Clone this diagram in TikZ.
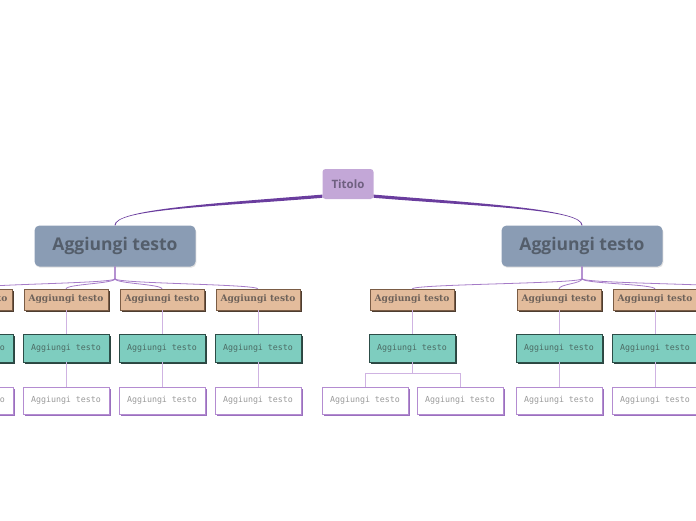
\documentclass[tikz,border=0pt]{standalone}
\usepackage{fontspec}
\usepackage{xcolor}
\newfontfamily\roundfont{Open Sans}
\newfontfamily\slabfont{DejaVu Serif}
\newfontfamily\pixfont{DejaVu Sans Mono}
\usetikzlibrary{positioning, shadows}

\definecolor{titlefill}{HTML}{C3A7D7}
\definecolor{titletext}{HTML}{6F6080}
\definecolor{mainfill}{HTML}{8A9CB4}
\definecolor{maintext}{HTML}{545E6B}
\definecolor{tanfill}{HTML}{E3BC9C}
\definecolor{tanline}{HTML}{7A5C45}
\definecolor{tanshade}{HTML}{4E3D30}
\definecolor{tantext}{HTML}{6E625A}
\definecolor{tealfill}{HTML}{7ECDBF}
\definecolor{tealline}{HTML}{2C4D47}
\definecolor{tealshade}{HTML}{2C4540}
\definecolor{tealtext}{HTML}{4C6B64}
\definecolor{leafline}{HTML}{B48CD1}
\definecolor{leafshade}{HTML}{9A70BE}
\definecolor{leaftext}{HTML}{9A9A9A}
\definecolor{trunkcol}{HTML}{6A3D9E}
\definecolor{branchcol}{HTML}{A57BC7}
\definecolor{stemcol}{HTML}{CFB3E2}

\tikzset{
  titlebox/.style={fill=titlefill, rounded corners=3pt, inner sep=0pt,
    minimum width=51pt, minimum height=30pt, text=titletext,
    font=\roundfont\bfseries\fontsize{11.5}{13}\selectfont},
  mainbox/.style={fill=mainfill, rounded corners=5pt, inner sep=0pt,
    minimum width=161pt, minimum height=41pt, text=maintext,
    general shadow={fill=black!12, shadow xshift=0.8pt, shadow yshift=-1.2pt},
    font=\roundfont\bfseries\fontsize{17.5}{20}\selectfont},
  tanbox/.style={draw=tanline, fill=tanfill, inner sep=0pt,
    minimum width=84pt, minimum height=21pt, text=tantext,
    general shadow={fill=tanshade, shadow xshift=2pt, shadow yshift=-2pt},
    font=\slabfont\bfseries\fontsize{9.1}{10}\selectfont},
  tealbox/.style={draw=tealline, fill=tealfill, inner sep=0pt,
    minimum width=86pt, minimum height=28pt, text=tealtext,
    general shadow={fill=tealshade, shadow xshift=2pt, shadow yshift=-2pt},
    font=\pixfont\fontsize{8.3}{10}\selectfont},
  leafbox/.style={draw=leafline, fill=white, inner sep=0pt,
    minimum width=86pt, minimum height=27pt, text=leaftext,
    general shadow={fill=leafshade, shadow xshift=1.5pt, shadow yshift=-1.5pt},
    font=\pixfont\fontsize{8.3}{10}\selectfont},
  trunk/.style={fill=trunkcol},
  branch/.style={draw=branchcol, line width=0.8pt},
  stem/.style={draw=stemcol, line width=0.8pt}
}

\begin{document}
\begin{tikzpicture}[x=1pt, y=-1pt]
\useasboundingbox (0,0) rectangle (696,520);
\clip (0,0) rectangle (696,520);
% Root and main topics
\node[titlebox] (titolo) at (348,184) {Titolo};
\node[mainbox] (mainL) at (115,246) {Aggiungi testo};
\node[mainbox] (mainR) at (582,246) {Aggiungi testo};
% tapered links from the root
\fill[trunk] ([yshift=4.6pt]titolo.south west) .. controls +(-110,9) and +(0,-16) .. ([xshift=-0.5pt]mainL.north)
  -- ([xshift=0.5pt]mainL.north) .. controls +(0,-16) and +(-110,9) .. ([yshift=1.4pt]titolo.south west) -- cycle;
\fill[trunk] ([yshift=4.6pt]titolo.south east) .. controls +(110,9) and +(0,-16) .. ([xshift=0.5pt]mainR.north)
  -- ([xshift=-0.5pt]mainR.north) .. controls +(0,-16) and +(110,9) .. ([yshift=1.4pt]titolo.south east) -- cycle;
% Left subtopics
\foreach \x/\n in {-30/a, 66/b, 162/c, 258/d} {
  \draw[branch] (mainL.south) -- ++(0,12) .. controls +(0,5) and +(0,-5) .. (\x,289);
  \node[tanbox] (tL\n) at (\x,299.5) {Aggiungi testo};
  \node[tealbox] (cL\n) at (\x,348) {Aggiungi testo};
  \node[leafbox] (wL\n) at (\x,400.5) {Aggiungi testo};
  \draw[stem] (tL\n) -- (cL\n);
  \draw[stem] (cL\n) -- (wL\n);
}
% Right subtopics
\foreach \x/\n in {412/a, 559/b, 655/c, 751/d} {
  \draw[branch] (mainR.south) -- ++(0,12) .. controls +(0,5) and +(0,-5) .. (\x,289);
  \node[tanbox] (tR\n) at (\x,299.5) {Aggiungi testo};
  \node[tealbox] (cR\n) at (\x,348) {Aggiungi testo};
  \draw[stem] (tR\n) -- (cR\n);
}
\foreach \x/\n in {559/b, 655/c, 751/d} {
  \node[leafbox] (wR\n) at (\x,400.5) {Aggiungi testo};
  \draw[stem] (cR\n) -- (wR\n);
}
% Two leaves under the first right subtopic
\node[leafbox] (wRa1) at (365,400.5) {Aggiungi testo};
\node[leafbox] (wRa2) at (460,400.5) {Aggiungi testo};
\draw[stem] (cRa.south) -- ++(0,11) -| (wRa1.north);
\draw[stem] (cRa.south) -- ++(0,11) -| (wRa2.north);
\end{tikzpicture}
\end{document}
